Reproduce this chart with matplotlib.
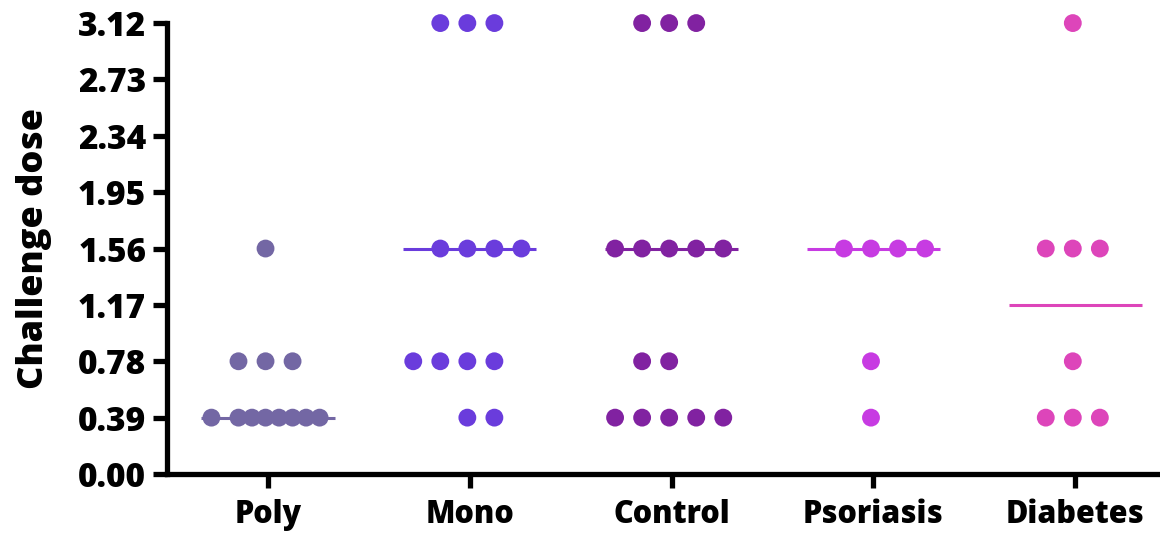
import matplotlib
matplotlib.use("Agg")
import matplotlib.pyplot as plt
import numpy as np

plt.rcParams['font.family'] = ['Open Sans', 'DejaVu Sans']
plt.rcParams['font.weight'] = 'heavy'

groups = ['Poly', 'Mono', 'Control', 'Psoriasis', 'Diabetes']
colors = ['#7367a4', '#6a3cdc', '#8122a1', '#c73be2', '#dd45ba']
y_ticks = [0.00, 0.39, 0.78, 1.17, 1.56, 1.95, 2.34, 2.73, 3.12]

# challenge dose per subject, one list per group
poly = [1.56, 0.78, 0.78, 0.78,
        0.39, 0.39, 0.39, 0.39, 0.39, 0.39, 0.39, 0.39]
mono = [3.12, 3.12, 3.12, 1.56, 1.56, 1.56, 1.56,
        0.78, 0.78, 0.78, 0.78, 0.39, 0.39]
control = [3.12, 3.12, 3.12, 1.56, 1.56, 1.56, 1.56, 1.56,
           0.78, 0.78, 0.39, 0.39, 0.39, 0.39, 0.39]
psoriasis = [1.56, 1.56, 1.56, 1.56, 0.78, 0.39]
diabetes = [3.12, 1.56, 1.56, 1.56, 0.78, 0.39, 0.39, 0.39]
values = [poly, mono, control, psoriasis, diabetes]

# horizontal slot of each dot inside its group (scatter layout)
slots = [
    [0, -1, 0, 1, -2, -1, -0.5, 0, 0.5, 1, 1.5, 2],
    [-1, 0, 1, -1, 0, 1, 2, -2, -1, 0, 1, 0, 1],
    [-1, 0, 1, -2, -1, 0, 1, 2, -1, 0, -2, -1, 0, 1, 2],
    [-1, 0, 1, 2, 0, 0],
    [0, -1, 0, 1, 0, -1, 0, 1],
]
slot_w = 0.134
half_line = 0.33

fig = plt.figure(figsize=(11.6, 5.33), dpi=100)
ax = fig.add_axes([0.144, 0.1107, 0.856, 0.846])

for i, (vals, sl, c) in enumerate(zip(values, slots, colors)):
    xs = i - 0.012 + np.array(sl) * slot_w
    ax.scatter(xs, vals, s=165, color=c, edgecolors='none', zorder=3, clip_on=False)
    med = np.median(vals)
    ax.plot([i - half_line, i + half_line], [med, med], color=c, lw=2.2,
            zorder=2, solid_capstyle='butt', clip_on=False)

ax.set_xlim(-0.50, 4.42)
ax.set_ylim(0, 3.12)
ax.set_yticks(y_ticks)
ax.set_yticklabels([f'{v:.2f}' for v in y_ticks])
ax.set_xticks(range(len(groups)))
ax.set_xticklabels(groups)

for side in ['top', 'right']:
    ax.spines[side].set_visible(False)
for side in ['left', 'bottom']:
    ax.spines[side].set_linewidth(3.8)
ax.tick_params(axis='y', width=3.8, length=10, pad=5, labelsize=24)
ax.tick_params(axis='x', width=3.8, length=10, pad=8, labelsize=22)

ax.set_ylabel('Challenge dose', fontsize=26, fontweight='heavy', labelpad=19)

fig.savefig('out.png', dpi=100)
